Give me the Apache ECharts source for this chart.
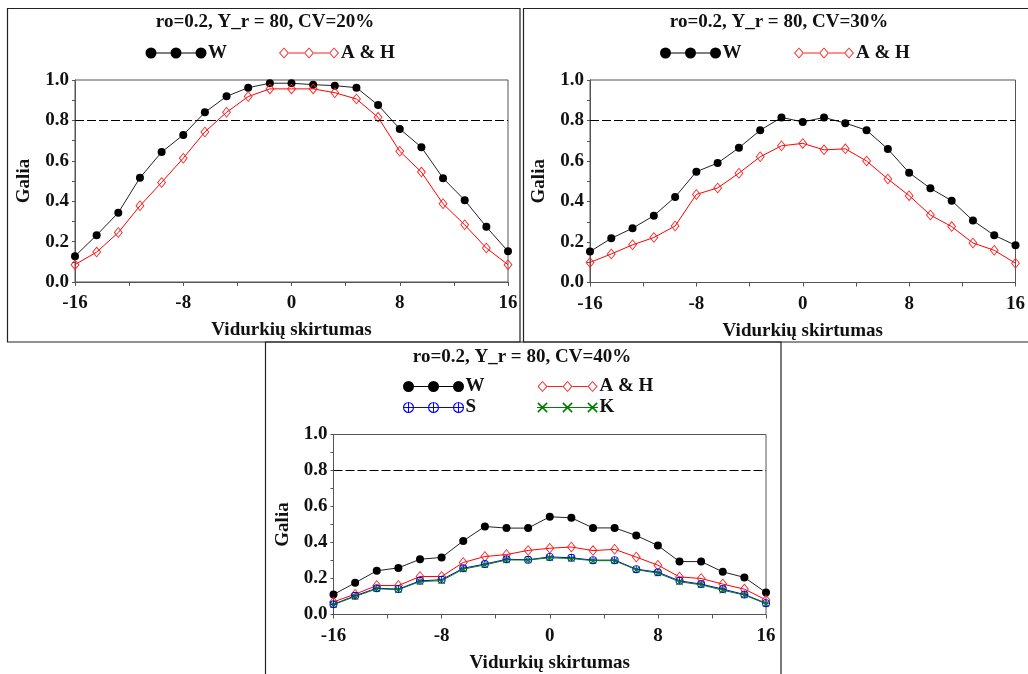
<!DOCTYPE html>
<html>
<head>
<meta charset="utf-8">
<script src="https://cdn.jsdelivr.net/npm/echarts@6/dist/echarts.min.js"></script>
<style>
  html, body { margin: 0; padding: 0; background: #fff; }
  #chart { width: 1028px; height: 674px; }
</style>
</head>
<body>
<div id="chart"></div>
<script>
// x: vidurkiu skirtumas
const xs = [-16, -14.4, -12.8, -11.2, -9.6, -8, -6.4, -4.8, -3.2, -1.6, 0, 1.6, 3.2, 4.8, 6.4, 8, 9.6, 11.2, 12.8, 14.4, 16]
const xTicks = [-16, -8, 0, 8, 16]
const yTicks = [0.0, 0.2, 0.4, 0.6, 0.8, 1.0]
const targetPower = 0.8

// CV = 20%
const w20 = [0.128, 0.232, 0.343, 0.516, 0.643, 0.728, 0.840, 0.919, 0.962, 0.984, 0.984, 0.977, 0.972, 0.962, 0.876, 0.758, 0.667, 0.514, 0.405, 0.273, 0.152]
const ah20 = [0.086, 0.148, 0.245, 0.377, 0.493, 0.613, 0.743, 0.840, 0.918, 0.956, 0.956, 0.956, 0.937, 0.906, 0.815, 0.647, 0.544, 0.387, 0.283, 0.168, 0.086]
// CV = 30%
const w30 = [0.153, 0.218, 0.268, 0.330, 0.422, 0.547, 0.590, 0.665, 0.752, 0.815, 0.793, 0.815, 0.787, 0.752, 0.659, 0.542, 0.465, 0.404, 0.306, 0.233, 0.184]
const ah30 = [0.099, 0.141, 0.186, 0.222, 0.279, 0.435, 0.467, 0.540, 0.621, 0.675, 0.687, 0.655, 0.660, 0.600, 0.511, 0.429, 0.333, 0.276, 0.195, 0.159, 0.095]
// CV = 40%
const w40 = [0.111, 0.176, 0.243, 0.259, 0.307, 0.317, 0.409, 0.489, 0.480, 0.480, 0.543, 0.537, 0.481, 0.481, 0.439, 0.383, 0.294, 0.294, 0.237, 0.206, 0.122]
const ah40 = [0.070, 0.113, 0.161, 0.161, 0.211, 0.211, 0.289, 0.322, 0.333, 0.356, 0.368, 0.375, 0.355, 0.362, 0.319, 0.274, 0.209, 0.200, 0.169, 0.141, 0.081]
const s40 = [0.057, 0.104, 0.146, 0.141, 0.187, 0.193, 0.257, 0.280, 0.307, 0.304, 0.320, 0.315, 0.302, 0.302, 0.252, 0.235, 0.187, 0.169, 0.141, 0.111, 0.063]
const k40 = [0.055, 0.100, 0.143, 0.138, 0.183, 0.188, 0.252, 0.276, 0.303, 0.303, 0.315, 0.311, 0.299, 0.299, 0.249, 0.230, 0.182, 0.165, 0.135, 0.108, 0.060]

const FONT = 'Liberation Serif'
const txt = { fontFamily: FONT, fontWeight: 'bold', fontSize: 19, color: '#111' }
const axisColor = '#555'

// ---- symbol paths (filled shapes, nonzero rule) ----
function disc (cx, cy, r) {
  return `M${cx - r} ${cy} A${r} ${r} 0 1 1 ${cx + r} ${cy} A${r} ${r} 0 1 1 ${cx - r} ${cy} Z `
}
function ring (cx, cy, r, t) {
  const ri = r - t
  return disc(cx, cy, r) +
    `M${cx - ri} ${cy} A${ri} ${ri} 0 1 0 ${cx + ri} ${cy} A${ri} ${ri} 0 1 0 ${cx - ri} ${cy} Z `
}
function bar (x1, y1, x2, y2) {
  return `M${x1} ${y1} L${x2} ${y1} L${x2} ${y2} L${x1} ${y2} Z `
}
function diamondOutline (cx, cy, hw, hh, t) {
  const iw = hw - t * 1.4
  const ih = hh - t * 1.5
  return `M${cx - hw} ${cy} L${cx} ${cy - hh} L${cx + hw} ${cy} L${cx} ${cy + hh} Z ` +
    `M${cx - iw} ${cy} L${cx} ${cy + ih} L${cx + iw} ${cy} L${cx} ${cy - ih} Z `
}
function cross (cx, cy, h, d) {
  return `M${cx - h} ${cy - h + d} L${cx - h + d} ${cy - h} L${cx + h} ${cy + h - d} L${cx + h - d} ${cy + h} Z ` +
    `M${cx + h - d} ${cy - h} L${cx + h} ${cy - h + d} L${cx - h + d} ${cy + h} L${cx - h} ${cy + h - d} Z `
}

// marker symbols for the plot
const symDiamond = 'path://' + diamondOutline(9, 11, 9, 11, 1.7)
const symPlus = 'path://' + ring(10, 10, 10, 2.4) + bar(8.9, 0, 11.1, 20) + bar(0, 8.9, 20, 11.1)
const symX = 'path://' + cross(10, 10, 10, 2.2)

// legend icons: three markers joined by a line
const cxs = [5.5, 30.5, 55.5]
const iconW = 'path://' + bar(5.5, 5, 61, 6) + cxs.map(c => disc(c, 5.5, 5.5)).join('')
const iconAH = 'path://' + bar(10.5, 5, 25.5, 6) + bar(35.5, 5, 50.5, 6) +
  cxs.map(c => diamondOutline(c, 5.5, 5, 5.5, 0.9)).join('')
const iconS = 'path://' + bar(0, 5, 61, 6) +
  cxs.map(c => ring(c, 5.5, 5.5, 1.1) + bar(c - 0.5, 0, c + 0.5, 11)).join('')
const iconK = 'path://' + bar(0, 5, 61, 6) + cxs.map(c => cross(c, 5.5, 5.2, 1.1)).join('')

const styles = {
  'W': { symbol: 'circle', symbolSize: 8, color: '#000', line: '#222', icon: iconW },
  'A & H': { symbol: symDiamond, symbolSize: [9, 11], color: '#ff2020', line: '#ff0000', icon: iconAH },
  'S': { symbol: symPlus, symbolSize: 8, color: '#0000ff', line: '#0000ff', icon: iconS },
  'K': { symbol: symX, symbolSize: 7, color: '#008000', line: '#008000', icon: iconK }
}

// panels: grid box + title + legend columns
const panels = [
  { title: 'ro=0.2, Y_r = 80, CV=20%', tx: 265, ty: 13, grid: { left: 75, top: 80, width: 433, height: 202 },
    series: [['W', w20], ['A & H', ah20]], legend: [[145.5, 43.5, ['W']], [279, 43.5, ['A & H']]] },
  { title: 'ro=0.2, Y_r = 80, CV=30%', tx: 779, ty: 13, grid: { left: 590, top: 80, width: 433, height: 202.5 },
    series: [['W', w30], ['A & H', ah30]], legend: [[660, 43.5, ['W']], [794, 43.5, ['A & H']]] },
  { title: 'ro=0.2, Y_r = 80, CV=40%', tx: 522, ty: 347.5, grid: { left: 333.5, top: 434.5, width: 432.5, height: 180 },
    series: [['W', w40], ['A & H', ah40], ['S', s40], ['K', k40]], legend: [[403, 377, ['W', 'S']], [537, 377, ['A & H', 'K']]] }
]

const option = {
  animation: false,
  backgroundColor: '#fff',
  title: [],
  legend: [],
  grid: [],
  xAxis: [],
  yAxis: [],
  series: [],
  graphic: [
    // panel frames
    { type: 'rect', shape: { x: 7.5, y: 8.5, width: 512.5, height: 333.5 }, style: { fill: 'none', stroke: '#222', lineWidth: 1.2 }, silent: true },
    { type: 'rect', shape: { x: 523.5, y: 8.5, width: 520, height: 333.5 }, style: { fill: 'none', stroke: '#222', lineWidth: 1.2 }, silent: true },
    { type: 'rect', shape: { x: 265.5, y: 342, width: 515.5, height: 360 }, style: { fill: 'none', stroke: '#222', lineWidth: 1.2 }, silent: true }
  ]
}

panels.forEach((p, gi) => {
  option.title.push({
    text: p.title, left: p.tx, top: p.ty, textAlign: 'center', padding: 0,
    textStyle: txt
  })
  p.legend.forEach(([lx, ly, names]) => {
    option.legend.push({
      left: lx, top: ly, orient: 'vertical', padding: 0, itemGap: 2,
      itemWidth: 61, itemHeight: 11, selectedMode: false,
      textStyle: Object.assign({ padding: [0, 0, 0, -3.5] }, txt),
      data: names.map(n => ({ name: n, icon: styles[n].icon, itemStyle: { color: styles[n].color, borderWidth: 0 } }))
    })
  })
  option.grid.push(Object.assign({ show: true, borderColor: axisColor, borderWidth: 1, backgroundColor: 'transparent' }, p.grid))
  option.xAxis.push({
    gridIndex: gi, type: 'value', min: xTicks[0], max: xTicks[xTicks.length - 1], interval: 8,
    axisLine: { show: true, onZero: false, lineStyle: { color: axisColor } },
    axisTick: { show: true, length: 4, lineStyle: { color: axisColor } },
    minorTick: { show: true, splitNumber: 2, length: 4, lineStyle: { color: axisColor } },
    splitLine: { show: false },
    axisLabel: Object.assign({ margin: 12 }, txt),
    name: 'Vidurkių skirtumas', nameLocation: 'middle', nameGap: 39, nameTextStyle: txt
  })
  option.yAxis.push({
    gridIndex: gi, type: 'value', min: yTicks[0], max: yTicks[yTicks.length - 1], interval: 0.2,
    axisLine: { show: true, onZero: false, lineStyle: { color: axisColor } },
    axisTick: { show: true, length: 3, lineStyle: { color: axisColor } },
    minorTick: { show: true, splitNumber: 2, length: 3, lineStyle: { color: axisColor } },
    splitLine: { show: false },
    axisLabel: Object.assign({ margin: 6, formatter: v => v.toFixed(1) }, txt),
    name: 'Galia', nameLocation: 'middle', nameGap: 41, nameTextStyle: txt
  })
  p.series.forEach(([name, vals], si) => {
    const st = styles[name]
    const s = {
      name: name, type: 'line', xAxisIndex: gi, yAxisIndex: gi,
      data: xs.map((x, i) => [x, vals[i]]),
      symbol: st.symbol, symbolSize: st.symbolSize, showAllSymbol: true,
      itemStyle: { color: st.color, borderWidth: 0 },
      lineStyle: { color: st.line, width: 1 },
      z: 3 + si
    }
    if (si === 0) {
      // 0.8 galios riba
      s.markLine = {
        silent: true, symbol: ['none', 'none'], label: { show: false },
        lineStyle: { color: '#000', type: [9, 3], width: 1 },
        data: [{ yAxis: targetPower }]
      }
    }
    option.series.push(s)
  })
})

const myChart = echarts.init(document.getElementById('chart'))
myChart.setOption(option)
</script>
</body>
</html>
